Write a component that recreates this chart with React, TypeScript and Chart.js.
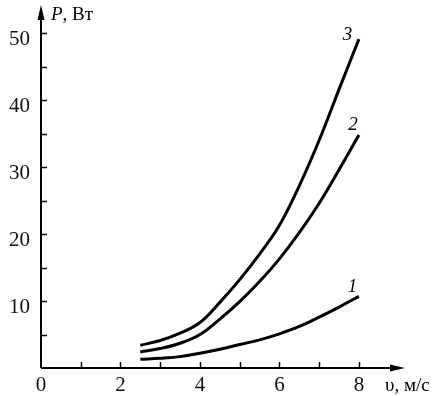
import React, { useEffect, useRef } from "react";
import { Chart, registerables } from "chart.js";

Chart.register(...registerables);

const speeds = [2.5, 3, 3.5, 4, 4.5, 5, 5.5, 6, 6.5, 7, 7.5, 8];
const power1 = [1.3, 1.45, 1.7, 2.2, 2.8, 3.5, 4.2, 5.1, 6.2, 7.6, 9.1, 10.7];
const power2 = [2.4, 2.9, 3.7, 5.0, 7.3, 9.9, 12.9, 16.3, 20.2, 24.6, 29.6, 34.8];
const power3 = [3.4, 4.1, 5.2, 6.8, 9.8, 13.2, 17.0, 21.3, 27.2, 34.0, 41.6, 49.1];
const curveLabels = ["1", "2", "3"];
const xTickLabels = [0, 2, 4, 6, 8];
const yTickLabels = [10, 20, 30, 40, 50];
const xMinorTicks = [1, 2, 3, 4, 5, 6, 7, 8];
const yMinorTicks = [5, 10, 15, 20, 25, 30, 35, 40, 45, 50];
const yTitleItalic = "P";
const yTitleRest = ", Вт";
const xTitle = "υ, м/с";

const SERIF = "'Liberation Serif', 'Times New Roman', serif";
const LABEL_OFFSETS = [
  [-6.5, -9],
  [-6, -10],
  [-11.5, -4.5],
];

const axesPlugin = {
  id: "axesPlugin",
  afterDraw(chart: any) {
    const ctx = chart.ctx;
    const xs = chart.scales.x;
    const ys = chart.scales.y;
    const ca = chart.chartArea;
    const x0 = xs.getPixelForValue(0);
    const y0 = ys.getPixelForValue(0);
    ctx.save();
    ctx.strokeStyle = "#000";
    ctx.fillStyle = "#000";
    ctx.lineWidth = 2;
    // axis lines
    ctx.beginPath();
    ctx.moveTo(x0, y0);
    ctx.lineTo(ca.right - 6, y0);
    ctx.moveTo(x0, y0);
    ctx.lineTo(x0, ca.top + 6);
    ctx.stroke();
    // arrowheads
    ctx.beginPath();
    ctx.moveTo(ca.right, y0);
    ctx.lineTo(ca.right - 15, y0 - 3.5);
    ctx.lineTo(ca.right - 15, y0 + 3.5);
    ctx.closePath();
    ctx.fill();
    ctx.beginPath();
    ctx.moveTo(x0, ca.top);
    ctx.lineTo(x0 - 3.5, ca.top + 15);
    ctx.lineTo(x0 + 3.5, ca.top + 15);
    ctx.closePath();
    ctx.fill();
    // tick marks (inside)
    ctx.lineWidth = 1.5;
    ctx.beginPath();
    xMinorTicks.forEach((v) => {
      const px = Math.round(xs.getPixelForValue(v)) + 0.5;
      ctx.moveTo(px, y0);
      ctx.lineTo(px, y0 - 6);
    });
    yMinorTicks.forEach((v) => {
      const py = Math.round(ys.getPixelForValue(v)) + 0.5;
      ctx.moveTo(x0, py);
      ctx.lineTo(x0 + 6, py);
    });
    ctx.stroke();
    // axis titles
    ctx.textBaseline = "alphabetic";
    ctx.textAlign = "left";
    ctx.font = `italic 19px ${SERIF}`;
    const tx = x0 + 10;
    const ty = ca.top + 15;
    ctx.fillText(yTitleItalic, tx, ty);
    const w = ctx.measureText(yTitleItalic).width;
    ctx.font = `19px ${SERIF}`;
    ctx.fillText(yTitleRest, tx + w, ty);
    ctx.font = `19px ${SERIF}`;
    ctx.fillText(xTitle, ca.right - 20, y0 + 23);
    // curve labels
    ctx.font = `italic 19px ${SERIF}`;
    ctx.textAlign = "center";
    ctx.textBaseline = "middle";
    chart.data.datasets.forEach((ds: any, i: number) => {
      const meta = chart.getDatasetMeta(i);
      const last = meta.data[meta.data.length - 1];
      ctx.fillText(curveLabels[i], last.x + LABEL_OFFSETS[i][0], last.y + LABEL_OFFSETS[i][1]);
    });
    ctx.restore();
  },
};

export default function App() {
  const ref = useRef<HTMLCanvasElement | null>(null);
  useEffect(() => {
    if (!ref.current) return;
    const mk = (data: number[]) => ({
      data: speeds.map((s, i) => ({ x: s, y: data[i] })),
      borderColor: "#000",
      borderWidth: 3,
      pointRadius: 0,
      tension: 0.4,
      fill: false,
    });
    const zeroPad = (s: any) => {
      s.paddingTop = 0;
      s.paddingBottom = 0;
      s.paddingLeft = 0;
      s.paddingRight = 0;
    };
    const chart = new Chart(ref.current, {
      type: "line",
      data: { datasets: [mk(power1), mk(power2), mk(power3)] },
      options: {
        animation: false,
        responsive: false,
        layout: { padding: { top: 5, right: 39, left: 0, bottom: 0 } },
        plugins: { legend: { display: false }, tooltip: { enabled: false } },
        scales: {
          x: {
            type: "linear",
            min: 0,
            max: 9.16,
            grid: { display: false, drawTicks: false },
            border: { display: false },
            afterFit: (s: any) => {
              s.height = 28;
              zeroPad(s);
            },
            ticks: {
              stepSize: 1,
              includeBounds: false,
              autoSkip: false,
              maxRotation: 0,
              padding: 5,
              color: "#111",
              font: { family: SERIF, size: 21 },
              callback: (v: any) => (xTickLabels.includes(Number(v)) ? String(v) : ""),
            },
          },
          y: {
            type: "linear",
            min: 0,
            max: 54.2,
            grid: { display: false, drawTicks: false },
            border: { display: false },
            afterFit: (s: any) => {
              s.width = 41;
              zeroPad(s);
            },
            ticks: {
              stepSize: 5,
              includeBounds: false,
              autoSkip: false,
              padding: 11,
              labelOffset: 6,
              color: "#111",
              font: { family: SERIF, size: 21 },
              callback: (v: any) => (yTickLabels.includes(Number(v)) ? String(v) : ""),
            },
          },
        },
      },
      plugins: [axesPlugin],
    });
    return () => chart.destroy();
  }, []);
  return (
    <div style={{ position: "fixed", left: 0, top: 0, width: 444, height: 396, background: "#fff" }}>
      <canvas ref={ref} width={444} height={396} style={{ width: 444, height: 396 }} />
    </div>
  );
}
